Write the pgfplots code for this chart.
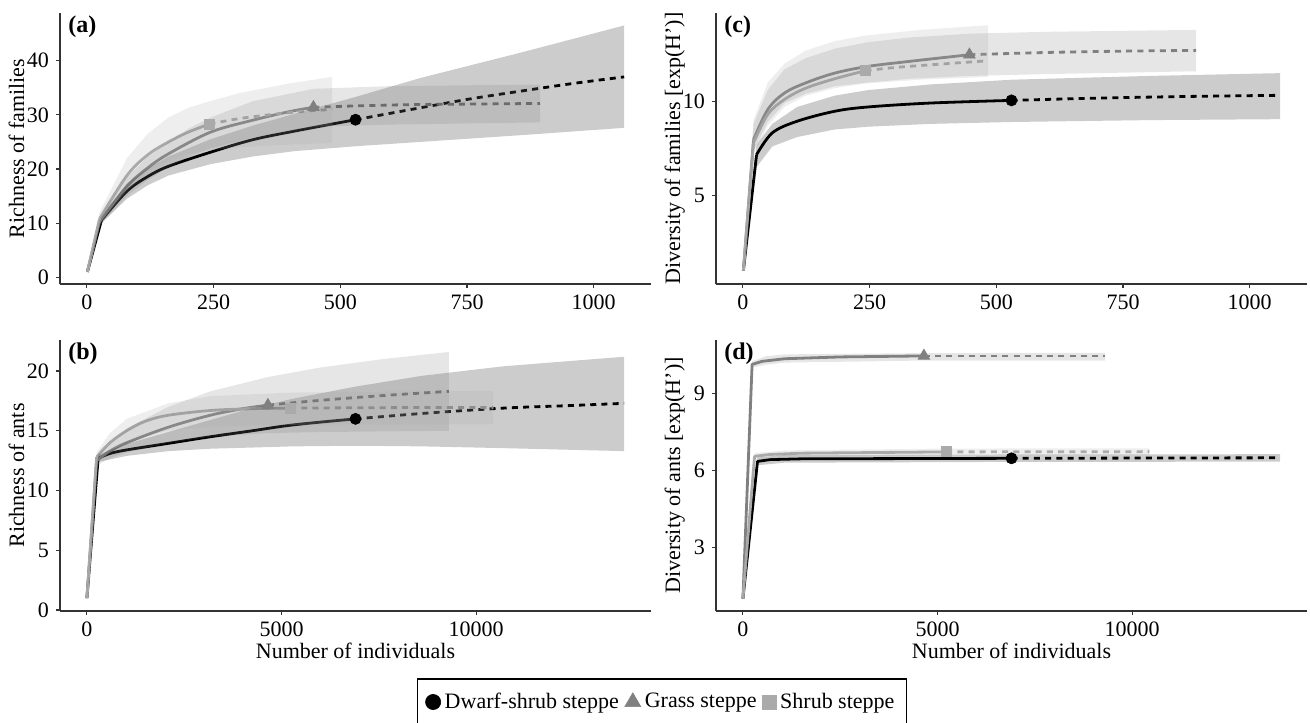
\documentclass[border=0pt]{standalone}
\usepackage{fontspec}
\setmainfont{Liberation Serif}
\usepackage{pgfplots}
\pgfplotsset{compat=1.18}

\definecolor{cD}{RGB}{0,0,0}
\definecolor{cG}{RGB}{128,128,128}
\definecolor{cS}{RGB}{170,170,170}
\newcommand{\fsz}{\fontsize{11}{13}\selectfont}

\pgfplotsset{
  panel/.style={
    scale only axis, width=295.5pt, height=135.5pt, anchor=south west,
    axis lines*=left, axis line style={-, black!80, line width=0.6pt},
    tick align=outside, major tick length=2pt,
    tick style={black!80, line width=0.6pt},
    tick label style={font=\fsz}, label style={font=\fsz},
    scaled x ticks=false, scaled y ticks=false,
    /pgf/number format/assume math mode=true,
    /pgf/number format/1000 sep={},
    ylabel style={at={(axis description cs:-0.0525,0.5)}, anchor=south,
      inner sep=0pt, text depth=0.22em},
    xlabel style={yshift=0.5pt, inner sep=0pt},
  },
  ln/.style={line width=1.4pt, line join=round},
  sm/.style={smooth, tension=0.55},
  ex/.style={line width=1.4pt, dash pattern=on 3pt off 2.6pt, smooth, tension=0.55},
  dot/.style={only marks, mark=*, mark size=2.75pt},
  tri/.style={only marks, mark=triangle*, mark size=3.3pt},
  sqr/.style={only marks, mark=square*, mark size=2.5pt},
  bnd/.style={fill=#1, fill opacity=0.2, draw=none},
}
\newcommand{\plab}[1]{\node[anchor=north west, inner sep=0pt, font=\bfseries\fontsize{12}{12}\selectfont]
  at (rel axis cs:0,1) [xshift=4pt, yshift=-1pt] {#1};}

\begin{document}
\begin{tikzpicture}
\path[use as bounding box] (0,0) rectangle (655pt,-361pt);

% (a) richness of families
\begin{axis}[panel, at={(30pt,-142pt)},
  xmin=-53, xmax=1113, ymin=-1.23, ymax=48.8,
  xtick={0,250,500,750,1000}, ytick={0,10,20,30,40},
  ylabel={Richness of families}]
\addplot[cD, ln] coordinates {(1,1) (29,10.6)};
\addplot[cD, ln, sm] coordinates {(29,10.6) (79,15.9) (120,18.6) (161,20.5) (244,23.1) (327,25.4) (410,27.0) (530,29.1)};
\addplot[cD, ex] coordinates {(530,29.1) (658,31.3) (760,33.0) (865,34.5) (960,35.8) (1060,37.0)};
\addplot[cG, ln] coordinates {(1,1) (25,10.3)};
\addplot[cG, ln, sm] coordinates {(25,10.3) (79,16.8) (120,20.2) (161,22.8) (244,26.8) (327,29.0) (400,30.6) (447,31.4)};
\addplot[cG, ex] coordinates {(447,31.4) (550,31.7) (650,31.9) (770,32.0) (894,32.1)};
\addplot[cS, ln] coordinates {(1,1) (25,10.8)};
\addplot[cS, ln, sm] coordinates {(25,10.8) (79,18.8) (120,22.6) (161,25.0) (200,26.8) (242,28.3)};
\addplot[cS, ex] coordinates {(242,28.3) (300,29.3) (360,30.0) (420,30.6) (484,31.0)};
\addplot[cD, dot] coordinates {(530,29.1)};
\addplot[cG, tri] coordinates {(447,31.4)};
\addplot[cS, sqr] coordinates {(242,28.3)};
\addplot[bnd=cD] coordinates {(1,1) (29,11.2) (79,17.3) (120,20.1) (161,22.3) (244,25.5) (327,28.0) (410,30.2) (530,33.3) (658,36.8) (865,41.7) (1060,46.5)
  (1060,27.6) (865,26.3) (658,25.0) (530,24.2) (410,23.3) (327,22.3) (244,20.9) (161,18.8) (120,17.0) (79,14.5) (29,10.0)} -- cycle;
\addplot[bnd=cG] coordinates {(1,1) (25,11) (79,18.5) (120,22.2) (161,25) (200,27.4) (244,29.5) (327,32.5) (447,34.8) (600,35.3) (894,35.6)
  (894,28.6) (600,28.2) (447,27.8) (327,25.8) (244,23.8) (200,22.2) (161,20.3) (120,18.0) (79,15) (25,9.5)} -- cycle;
\addplot[bnd=cS] coordinates {(1,1) (25,12.0) (79,22) (120,26.5) (161,29.5) (200,31.3) (242,32.5) (300,34) (400,35.8) (484,37.0)
  (484,24.8) (400,24.5) (300,24.0) (242,23.5) (200,22.8) (161,21.5) (120,19.5) (79,16.0) (25,9.8)} -- cycle;
\plab{(a)}
\end{axis}

% (c) diversity of families
\begin{axis}[panel, at={(358pt,-142pt)},
  xmin=-53, xmax=1113, ymin=0.28, ymax=14.7,
  xtick={0,250,500,750,1000}, ytick={5,10},
  ylabel={Diversity of families [exp(H’)]}]
\addplot[cD, ln] coordinates {(1,1) (27,7.16)};
\addplot[cD, ln, sm] coordinates {(27,7.16) (58,8.32) (107,8.94) (181,9.47) (247,9.7) (371,9.91) (530,10.05)};
\addplot[cD, ex] coordinates {(530,10.05) (700,10.17) (880,10.26) (1060,10.32)};
\addplot[cG, ln] coordinates {(1,1) (21,7.96)};
\addplot[cG, ln, sm] coordinates {(21,7.96) (49,9.56) (82,10.44) (124,10.98) (181,11.5) (247,11.86) (330,12.13) (447,12.48)};
\addplot[cG, ex] coordinates {(447,12.48) (600,12.6) (750,12.67) (894,12.71)};
\addplot[cS, ln] coordinates {(1,1) (21,7.8)};
\addplot[cS, ln, sm] coordinates {(21,7.8) (49,9.3) (82,10.1) (124,10.7) (181,11.2) (242,11.63)};
\addplot[cS, ex] coordinates {(242,11.63) (300,11.8) (400,12.0) (484,12.16)};
\addplot[cD, dot] coordinates {(530,10.05)};
\addplot[cG, tri] coordinates {(447,12.48)};
\addplot[cS, sqr] coordinates {(242,11.63)};
\addplot[bnd=cD] coordinates {(1,1) (27,7.7) (58,8.8) (107,9.7) (181,10.3) (247,10.6) (371,10.9) (530,11.15) (800,11.35) (1060,11.5)
  (1060,9.05) (800,9.0) (530,8.9) (371,8.8) (247,8.65) (181,8.5) (107,8.1) (58,7.6) (27,6.5)} -- cycle;
\addplot[bnd=cG] coordinates {(1,1) (21,8.8) (49,10.6) (82,11.7) (124,12.3) (181,12.8) (247,13.15) (330,13.4) (447,13.6) (600,13.7) (894,13.8)
  (894,11.6) (600,11.45) (447,11.35) (330,11.2) (247,11.0) (181,10.8) (124,10.4) (82,9.9) (49,8.9) (21,7.4)} -- cycle;
\addplot[bnd=cS] coordinates {(1,1) (21,9.0) (49,11.0) (82,12.0) (124,12.7) (181,13.2) (242,13.5) (350,13.8) (484,14.05)
  (484,11.3) (350,11.15) (242,10.95) (181,10.7) (124,10.3) (82,9.7) (49,8.7) (21,7.2)} -- cycle;
\plab{(c)}
\end{axis}

% (b) richness of ants
\begin{axis}[panel, at={(30pt,-305.5pt)},
  xmin=-690, xmax=14490, ymin=-0.08, ymax=22.6,
  xtick={0,5000,10000}, ytick={0,5,10,15,20},
  ylabel={Richness of ants}, xlabel={Number of individuals}]
\addplot[cD, ln] coordinates {(1,1) (290,12.7)};
\addplot[cD, ln, sm] coordinates {(290,12.7) (590,13.1) (1020,13.4) (2090,13.95) (3165,14.5) (4240,15.0) (5310,15.5) (6900,16.0)};
\addplot[cD, ex] coordinates {(6900,16.0) (8600,16.45) (10700,16.9) (12300,17.1) (13800,17.3)};
\addplot[cG, ln] coordinates {(1,1) (250,12.5)};
\addplot[cG, ln, sm] coordinates {(250,12.5) (590,13.3) (1020,14.0) (2090,15.3) (3165,16.3) (4000,16.85) (4650,17.15)};
\addplot[cG, ex] coordinates {(4650,17.15) (6000,17.55) (7600,17.95) (9300,18.3)};
\addplot[cS, ln] coordinates {(1,1) (250,12.8)};
\addplot[cS, ln, sm] coordinates {(250,12.8) (590,14.0) (1020,15.0) (1500,15.8) (2090,16.3) (3165,16.7) (4240,16.85) (5220,16.9)};
\addplot[cS, ex] coordinates {(5220,16.9) (7000,16.93) (8800,16.95) (10440,16.95)};
\addplot[cD, dot] coordinates {(6900,16.0)};
\addplot[cG, tri] coordinates {(4650,17.15)};
\addplot[cS, sqr] coordinates {(5220,16.9)};
\addplot[bnd=cD] coordinates {(1,1) (290,13.0) (1020,13.9) (2090,14.9) (3165,15.9) (4240,16.9) (5310,17.7) (6900,18.7) (8600,19.6) (10700,20.4) (13800,21.2)
  (13800,13.3) (10700,13.55) (8600,13.7) (6900,13.75) (5310,13.7) (4240,13.6) (3165,13.5) (2090,13.3) (1020,12.9) (290,12.4)} -- cycle;
\addplot[bnd=cG] coordinates {(1,1) (250,12.9) (590,14.0) (1020,15.2) (2090,17.0) (3165,18.3) (4650,19.5) (6000,20.3) (7600,21.0) (9300,21.6)
  (9300,15.0) (6000,14.9) (4650,14.8) (3165,14.5) (2090,14.0) (1020,13.2) (590,12.7) (250,12.1)} -- cycle;
\addplot[bnd=cS] coordinates {(1,1) (250,13.2) (590,14.8) (1020,16.0) (2090,17.3) (3165,17.9) (5220,18.2) (10440,18.35)
  (10440,15.55) (5220,15.5) (3165,15.35) (2090,15.0) (1020,14.1) (590,13.3) (250,12.4)} -- cycle;
\plab{(b)}
\end{axis}

% (d) diversity of ants
\begin{axis}[panel, at={(358pt,-305.5pt)},
  xmin=-690, xmax=14490, ymin=0.52, ymax=11.08,
  xtick={0,5000,10000}, ytick={3,6,9},
  ylabel={Diversity of ants [exp(H’)]}, xlabel={Number of individuals}]
\addplot[cD, ln] coordinates {(1,1) (376,6.35) (700,6.42) (1500,6.45) (6900,6.47)};
\addplot[cD, ln, dash pattern=on 3pt off 2.6pt] coordinates {(6900,6.47) (13800,6.49)};
\addplot[cG, ln] coordinates {(1,1) (237,10.13) (500,10.25) (1075,10.35) (2500,10.42) (4650,10.46)};
\addplot[cG, ln, dash pattern=on 3pt off 2.6pt] coordinates {(4650,10.46) (9300,10.46)};
\addplot[cS, ln] coordinates {(1,1) (300,6.55) (700,6.62) (1500,6.67) (5220,6.72)};
\addplot[cS, ln, dash pattern=on 3pt off 2.6pt] coordinates {(5220,6.72) (10440,6.73)};
\addplot[cD, dot] coordinates {(6900,6.47)};
\addplot[cG, tri] coordinates {(4650,10.46)};
\addplot[cS, sqr] coordinates {(5220,6.72)};
\addplot[bnd=cD] coordinates {(1,1) (376,6.5) (1075,6.6) (6900,6.62) (13800,6.63)
  (13800,6.34) (6900,6.33) (1075,6.3) (376,6.2)} -- cycle;
\addplot[bnd=cG] coordinates {(1,1) (237,10.25) (600,10.45) (1075,10.52) (4650,10.57) (9300,10.58)
  (9300,10.28) (4650,10.28) (1075,10.2) (600,10.12) (237,10.0)} -- cycle;
\addplot[bnd=cS] coordinates {(1,1) (300,6.68) (1075,6.78) (5220,6.85) (10440,6.86)
  (10440,6.6) (5220,6.58) (1075,6.5) (300,6.4)} -- cycle;
\plab{(d)}
\end{axis}

% legend
\begin{axis}[at={(331pt,-351pt)}, anchor=center, hide axis, scale only axis,
  width=1pt, height=1pt, xmin=0, xmax=1, ymin=0, ymax=1,
  legend columns=3,
  legend style={at={(0.5,0.5)}, anchor=center, draw=black, line width=0.9pt,
    font=\fsz, inner xsep=4pt, inner ysep=5pt,
    /tikz/every even column/.append style={column sep=1pt}},
  legend image code/.code={\draw[#1, line width=0.3pt] plot coordinates {(0.18cm,0cm)};}]
\addlegendimage{only marks, mark=*, mark size=3.8pt, cD}
\addlegendentry{Dwarf-shrub steppe}
\addlegendimage{only marks, mark=triangle*, mark size=4.6pt, cG}
\addlegendentry{Grass steppe}
\addlegendimage{only marks, mark=square*, mark size=3.4pt, cS}
\addlegendentry{Shrub steppe}
\end{axis}
\end{tikzpicture}
\end{document}
